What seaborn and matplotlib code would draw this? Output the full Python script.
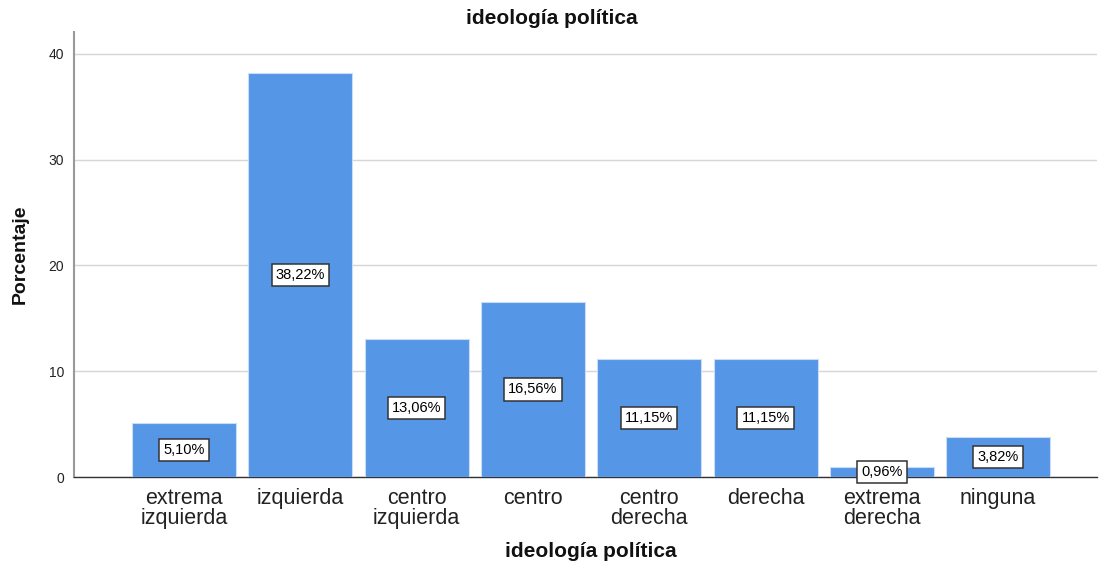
import matplotlib
matplotlib.use("Agg")
import matplotlib.pyplot as plt
import seaborn as sns
import pandas as pd

# Ideología política: porcentaje por categoría
categorias = ["extrema\nizquierda", "izquierda", "centro\nizquierda", "centro",
              "centro\nderecha", "derecha", "extrema\nderecha", "ninguna"]
porcentajes = [5.10, 38.22, 13.06, 16.56, 11.15, 11.15, 0.96, 3.82]
yticks = [0, 10, 20, 30, 40]

df = pd.DataFrame({"categoria": categorias, "porcentaje": porcentajes})

sns.set_theme(style="white")
plt.rcParams["font.family"] = ["Liberation Sans", "DejaVu Sans"]

fig = plt.figure(figsize=(11.03, 5.67), dpi=100)
ax = fig.add_axes([0.0671, 0.1587, 0.9275, 0.7849])

sns.barplot(data=df, x="categoria", y="porcentaje", order=categorias,
            color="#5596E6", saturation=1, width=0.894,
            edgecolor="#C9DDF7", linewidth=0.8, ax=ax, zorder=3)

for i, v in enumerate(porcentajes):
    ax.text(i, v / 2, f"{v:.2f}".replace(".", ",") + "%",
            ha="center", va="center", fontsize=10.5, color="black", zorder=5,
            bbox=dict(boxstyle="square,pad=0.28", fc="white", ec="#333333", lw=1.1))

ax.set_ylim(0, 42.08)
ax.set_xlim(-0.946, 7.85)
ax.set_yticks(yticks)
ax.set_yticklabels([str(t) for t in yticks], fontsize=10, color="#222222")
ax.tick_params(axis="y", length=0, pad=7)
ax.tick_params(axis="x", length=0, pad=8, labelsize=15.5, labelcolor="#222222")
for lbl in ax.get_xticklabels():
    lbl.set_linespacing(0.9)

ax.yaxis.grid(True, color="#D6D6D6", linewidth=1.0, zorder=0)
ax.set_axisbelow(True)

for s in ["top", "right"]:
    ax.spines[s].set_visible(False)
ax.spines["left"].set_color("#999999")
ax.spines["left"].set_linewidth(1.5)
ax.spines["bottom"].set_color("#333333")
ax.spines["bottom"].set_linewidth(1.0)

fig.text(0.5, 1 - 18 / 567, "ideología política", fontsize=15, fontweight="bold",
         ha="center", va="center", color="#111111")
ax.set_xlabel("ideología política", fontsize=15, fontweight="bold",
              color="#111111")
ax.xaxis.label.set_va("center")
ax.xaxis.set_label_coords(0.505, -(551 - 477) / 445)
ax.set_ylabel("Porcentaje", fontsize=14, fontweight="bold", labelpad=14,
              color="#111111")

fig.savefig("out.png", dpi=100)
